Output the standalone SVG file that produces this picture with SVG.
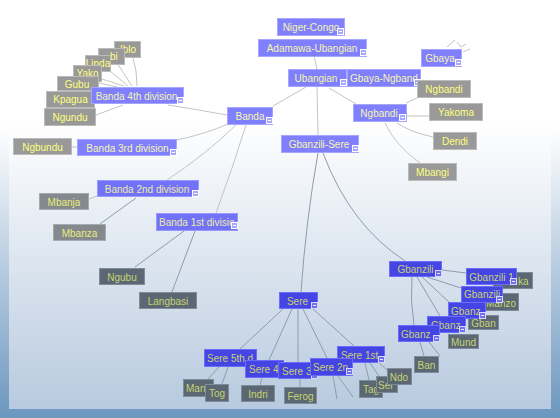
<svg xmlns="http://www.w3.org/2000/svg" xmlns:xlink="http://www.w3.org/1999/xlink" width="560" height="418" viewBox="0 0 560 418">
<defs>
<linearGradient id="bgIn" gradientUnits="userSpaceOnUse" x1="0" y1="0" x2="0" y2="408">
<stop offset="0" stop-color="#ffffff"/><stop offset="0.3" stop-color="#ffffff"/><stop offset="1" stop-color="#b8cadf"/>
</linearGradient>
<linearGradient id="bgOut" gradientUnits="userSpaceOnUse" x1="0" y1="0" x2="0" y2="418">
<stop offset="0" stop-color="#ffffff"/><stop offset="0.3" stop-color="#ffffff"/><stop offset="1" stop-color="#6c97bf"/>
</linearGradient>
<g id="mi"><rect x="0.5" y="0.5" width="6" height="6" fill="#a8a8ff" stroke="#ffffff" stroke-width="1"/><path d="M2 3.5H5" stroke="#ffffff" stroke-width="1"/></g>
<g id="mi2"><rect x="0.5" y="0.5" width="6" height="6" fill="#7070f0" stroke="#d8d8ff" stroke-width="1"/><path d="M2 3.5H5" stroke="#e8e8ff" stroke-width="1"/></g>
</defs>
<style>
text{font-family:"Liberation Sans",Arial,sans-serif;font-size:10px;}
.m{text-anchor:middle;}
.pA rect.b{fill:#8080ff;stroke:#a6a6ff;stroke-width:1;}
.pA text{fill:#f6f6a8;}
.pB rect.b{fill:#7272f8;stroke:#9898ff;stroke-width:1;}
.pB text{fill:#ececa4;}
.pC rect.b{fill:#4545e4;stroke:#6c6cff;stroke-width:1;}
.pC text{fill:#c8d272;}
.gA rect.b{fill:#999999;stroke:#bbbbbb;stroke-width:1;}
.gA text{fill:#ffff7a;}
.gB rect.b{fill:#84898e;stroke:#a4aab0;stroke-width:1;}
.gB text{fill:#e8ec7a;}
.gC rect.b{fill:#5b6772;stroke:#7e8b99;stroke-width:1;}
.gC text{fill:#c6d472;}
#edges path{fill:none;stroke-width:1;}
#edges .u{stroke:#c4c4c4;}
#edges .l{stroke:#8e9cae;}
</style>
<rect x="0" y="0" width="560" height="418" fill="url(#bgOut)"/>
<rect x="9" y="0" width="542" height="409" fill="url(#bgIn)"/>
<g id="edges">
<path class="u" d="M314 56L317 69"/>
<path class="u" d="M306 87L273 106"/>
<path class="u" d="M329 88L356 104"/>
<path class="u" d="M317 87L318 135"/>
<path class="u" d="M406 103L417 98"/>
<path class="u" d="M407 116L429 116"/>
<path class="u" d="M397 123Q410 132 433 137"/>
<path class="u" d="M385 123Q395 145 420 163"/>
<path class="u" d="M447 47L455 40"/>
<path class="u" d="M457 42L461 47L466 44"/>
<path class="u" d="M463 52L470 49"/>
<path class="u" d="M168 105Q200 110 227 115"/>
<path class="u" d="M137 86Q137 70 133 58"/>
<path class="u" d="M132 86L117 63"/>
<path class="u" d="M128 86L110 71"/>
<path class="u" d="M124 86L102 79"/>
<path class="u" d="M117 87L99 83"/>
<path class="u" d="M123 105L96 115"/>
<path class="u" d="M72 147L77 147"/>
<path class="u" d="M228 124Q205 134 177 140"/>
<path class="u" d="M236 125Q205 155 167 180"/>
<path class="u" d="M246 125Q232 170 216 213"/>
<path class="u" d="M89 199L97 196"/>
<path class="l" d="M100 224L136 198"/>
<path class="l" d="M184 231L135 267"/>
<path class="l" d="M195 231L172 292"/>
<path class="l" d="M318 153Q306 220 301 292"/>
<path class="l" d="M323 153Q350 225 405 261"/>
<path class="l" d="M442 270L466 273"/>
<path class="l" d="M427 277L461 288"/>
<path class="l" d="M422 277L450 303"/>
<path class="l" d="M417 277L440 316"/>
<path class="l" d="M412 277Q410 300 414 325"/>
<path class="l" d="M420 342L424 356"/>
<path class="l" d="M429 342L440 356"/>
<path class="l" d="M283 309L240 349"/>
<path class="l" d="M292 309L269 360"/>
<path class="l" d="M298 309L298 362"/>
<path class="l" d="M303 309L327 358"/>
<path class="l" d="M313 309L354 346"/>
<path class="l" d="M219 367L208 379"/>
<path class="l" d="M228 367L222 384"/>
<path class="l" d="M262 378L260 385"/>
<path class="l" d="M300 379L300 387"/>
<path class="l" d="M333 376L337 399"/>
<path class="l" d="M338 376L353 397"/>
<path class="l" d="M365 363L369 380"/>
<path class="l" d="M370 363L379 376"/>
<path class="l" d="M379 363L387 370"/>
</g>
<g id="n-niger-congo" class="pA"><rect class="b" x="277.5" y="18.5" width="67" height="17"/><text class="m" x="311" y="31">Niger-Congo</text><use xlink:href="#mi" x="337" y="28"/></g>
<g id="n-adamawa-ubangian" class="pA"><rect class="b" x="258.5" y="39.5" width="108" height="17"/><text class="m" x="312" y="52">Adamawa-Ubangian</text><use xlink:href="#mi" x="360" y="49"/></g>
<g id="n-ubangian" class="pA"><rect class="b" x="288.5" y="69.5" width="58" height="17"/><text class="m" x="316" y="82">Ubangian</text><use xlink:href="#mi" x="340" y="79"/></g>
<g id="n-gbaya-ngband" class="pA"><rect class="b" x="347.5" y="69.5" width="73" height="17"/><text x="350" y="82">Gbaya-Ngband</text><use xlink:href="#mi" x="414" y="79"/></g>
<g id="n-gbaya" class="pA"><rect class="b" x="421.5" y="49.5" width="40" height="17"/><text class="m" x="440" y="62">Gbaya</text><use xlink:href="#mi" x="455" y="59"/></g>
<g id="n-ngbandi-leaf" class="gA"><rect class="b" x="417.5" y="80.5" width="53" height="17"/><text class="m" x="444" y="93">Ngbandi</text></g>
<g id="n-yakoma" class="gA"><rect class="b" x="429.5" y="103.5" width="53" height="17"/><text class="m" x="456" y="116">Yakoma</text></g>
<g id="n-dendi" class="gA"><rect class="b" x="433.5" y="132.5" width="43" height="17"/><text class="m" x="455" y="145">Dendi</text></g>
<g id="n-mbangi" class="gA"><rect class="b" x="408.5" y="163.5" width="48" height="17"/><text class="m" x="432.5" y="176">Mbangi</text></g>
<g id="n-ngbandi" class="pA"><rect class="b" x="353.5" y="104.5" width="53" height="17"/><text class="m" x="379" y="117">Ngbandi</text><use xlink:href="#mi" x="399" y="114"/></g>
<g id="n-iblo" class="gA"><rect class="b" x="114.5" y="41.5" width="26" height="16"/><text class="m" x="128" y="53">Iblo</text></g>
<g id="n-ibi" class="gA"><rect class="b" x="98.5" y="48.5" width="26" height="16"/><text x="110" y="60">bi</text></g>
<g id="n-linda" class="gA"><rect class="b" x="85.5" y="55.5" width="25" height="16"/><text class="m" x="98" y="67">Linda</text></g>
<g id="n-yako" class="gA"><rect class="b" x="73.5" y="65.5" width="28" height="16"/><text class="m" x="87.5" y="77">Yako</text></g>
<g id="n-gubu" class="gA"><rect class="b" x="57.5" y="76.5" width="41" height="14"/><text class="m" x="77" y="87.5">Gubu</text></g>
<g id="n-kpagua" class="gA"><rect class="b" x="46.5" y="91.5" width="48" height="16"/><text class="m" x="70.5" y="103">Kpagua</text></g>
<g id="n-ngundu" class="gA"><rect class="b" x="44.5" y="108.5" width="51" height="17"/><text class="m" x="70" y="121">Ngundu</text></g>
<g id="n-banda4" class="pA"><rect class="b" x="91.5" y="87.5" width="92" height="16"/><text class="m" x="136.5" y="99.5">Banda 4th division</text><use xlink:href="#mi" x="177" y="97"/></g>
<g id="n-ngbundu" class="gA"><rect class="b" x="13.5" y="138.5" width="58" height="16"/><text class="m" x="42.5" y="150.5">Ngbundu</text></g>
<g id="n-banda3" class="pA"><rect class="b" x="77.5" y="139.5" width="99" height="16"/><text class="m" x="127.5" y="151.5">Banda 3rd division</text><use xlink:href="#mi" x="170" y="149"/></g>
<g id="n-mbanja" class="gB"><rect class="b" x="39.5" y="193.5" width="49" height="16"/><text class="m" x="64" y="205.5">Mbanja</text></g>
<g id="n-mbanza" class="gB"><rect class="b" x="53.5" y="224.5" width="52" height="16"/><text class="m" x="79.5" y="236.5">Mbanza</text></g>
<g id="n-banda2" class="pB"><rect class="b" x="97.5" y="180.5" width="101" height="16"/><text class="m" x="147" y="192.5">Banda 2nd division</text><use xlink:href="#mi" x="192" y="190"/></g>
<g id="n-ngubu" class="gC"><rect class="b" x="99.5" y="268.5" width="45" height="16"/><text class="m" x="122" y="280.5">Ngubu</text></g>
<g id="n-langbasi" class="gC"><rect class="b" x="139.5" y="292.5" width="57" height="16"/><text class="m" x="168" y="304.5">Langbasi</text></g>
<g id="n-banda1" class="pB"><rect class="b" x="156.5" y="213.5" width="81" height="17"/><text x="159" y="226">Banda 1st divisio</text><use xlink:href="#mi" x="231" y="222"/></g>
<g id="n-banda" class="pA"><rect class="b" x="227.5" y="107.5" width="45" height="17"/><text class="m" x="250" y="120">Banda</text><use xlink:href="#mi" x="266" y="117"/></g>
<g id="n-gbanzili-sere" class="pA"><rect class="b" x="281.5" y="135.5" width="77" height="17"/><text class="m" x="319" y="148">Gbanzili-Sere</text><use xlink:href="#mi" x="352" y="145"/></g>
<g id="n-buraka" class="gC"><rect class="b" x="493.5" y="272.5" width="39" height="16"/><text x="518" y="284.5">ka</text></g>
<g id="n-gbanzili1" class="pC"><rect class="b" x="466.5" y="268.5" width="50" height="16"/><text class="m" x="491.5" y="280.5">Gbanzili 1</text><use xlink:href="#mi2" x="510" y="278"/></g>
<g id="n-manzo" class="gC"><rect class="b" x="483.5" y="293.5" width="35" height="17"/><text class="m" x="501" y="307">Manzo</text></g>
<g id="n-gbanzili2" class="pC"><rect class="b" x="461.5" y="286.5" width="41" height="16"/><text x="464" y="298">Gbanzili</text><use xlink:href="#mi2" x="496" y="296"/></g>
<g id="n-gban" class="gC"><rect class="b" x="468.5" y="315.5" width="30" height="14"/><text class="m" x="483.5" y="326.5">Gban</text></g>
<g id="n-gbanz3" class="pC"><rect class="b" x="448.5" y="302.5" width="37" height="16"/><text x="451" y="314.5">Gbanz</text><use xlink:href="#mi2" x="479" y="312"/></g>
<g id="n-mund" class="gC"><rect class="b" x="448.5" y="334.5" width="30" height="14"/><text class="m" x="463.5" y="345.5">Mund</text></g>
<g id="n-gbanz4" class="pC"><rect class="b" x="427.5" y="316.5" width="38" height="16"/><text x="431" y="328.5">Gbanz</text><use xlink:href="#mi2" x="459" y="326"/></g>
<g id="n-gbanz5" class="pC"><rect class="b" x="398.5" y="325.5" width="41" height="16"/><text x="401" y="337.5">Gbanz</text><use xlink:href="#mi2" x="433" y="335"/></g>
<g id="n-ban" class="gC"><rect class="b" x="414.5" y="356.5" width="24" height="16"/><text class="m" x="426.5" y="368.5">Ban</text></g>
<g id="n-gbanzili" class="pC"><rect class="b" x="389.5" y="261.5" width="52" height="15"/><text class="m" x="415.5" y="273">Gbanzili</text><use xlink:href="#mi2" x="435" y="270"/></g>
<g id="n-man" class="gC"><rect class="b" x="183.5" y="379.5" width="30" height="17"/><text x="186" y="392">Man</text></g>
<g id="n-tog" class="gC"><rect class="b" x="205.5" y="384.5" width="23" height="17"/><text class="m" x="217" y="397">Tog</text></g>
<g id="n-sere5" class="pC"><rect class="b" x="204.5" y="349.5" width="52" height="17"/><text x="207" y="362">Sere 5th d</text></g>
<g id="n-indri" class="gC"><rect class="b" x="241.5" y="385.5" width="33" height="16"/><text class="m" x="258" y="397.5">Indri</text></g>
<g id="n-sere4" class="pC"><rect class="b" x="245.5" y="360.5" width="38" height="17"/><text x="249" y="373">Sere 4</text></g>
<g id="n-ferog" class="gC"><rect class="b" x="284.5" y="387.5" width="32" height="16"/><text class="m" x="300.5" y="399.5">Ferog</text></g>
<g id="n-sere3" class="pC"><rect class="b" x="278.5" y="362.5" width="39" height="16"/><text x="282" y="374.5">Sere 3</text><use xlink:href="#mi2" x="311" y="372"/></g>
<g id="n-sere1" class="pC"><rect class="b" x="337.5" y="346.5" width="47" height="16"/><text x="341" y="358.5">Sere 1st</text><use xlink:href="#mi2" x="378" y="356"/></g>
<g id="n-sere2" class="pC"><rect class="b" x="310.5" y="358.5" width="42" height="17"/><text x="313" y="371">Sere 2n</text><use xlink:href="#mi2" x="346" y="368"/></g>
<g id="n-tag" class="gC"><rect class="b" x="359.5" y="380.5" width="23" height="17"/><text x="363" y="393">Tag</text></g>
<g id="n-ser" class="gC"><rect class="b" x="376.5" y="376.5" width="21" height="16"/><text x="378" y="388.5">Ser</text></g>
<g id="n-ndo" class="gC"><rect class="b" x="387.5" y="368.5" width="24" height="16"/><text class="m" x="399" y="380.5">Ndo</text></g>
<g id="n-sere" class="pC"><rect class="b" x="279.5" y="292.5" width="38" height="16"/><text class="m" x="297.5" y="304.5">Sere</text><use xlink:href="#mi2" x="311" y="302"/></g>
</svg>
